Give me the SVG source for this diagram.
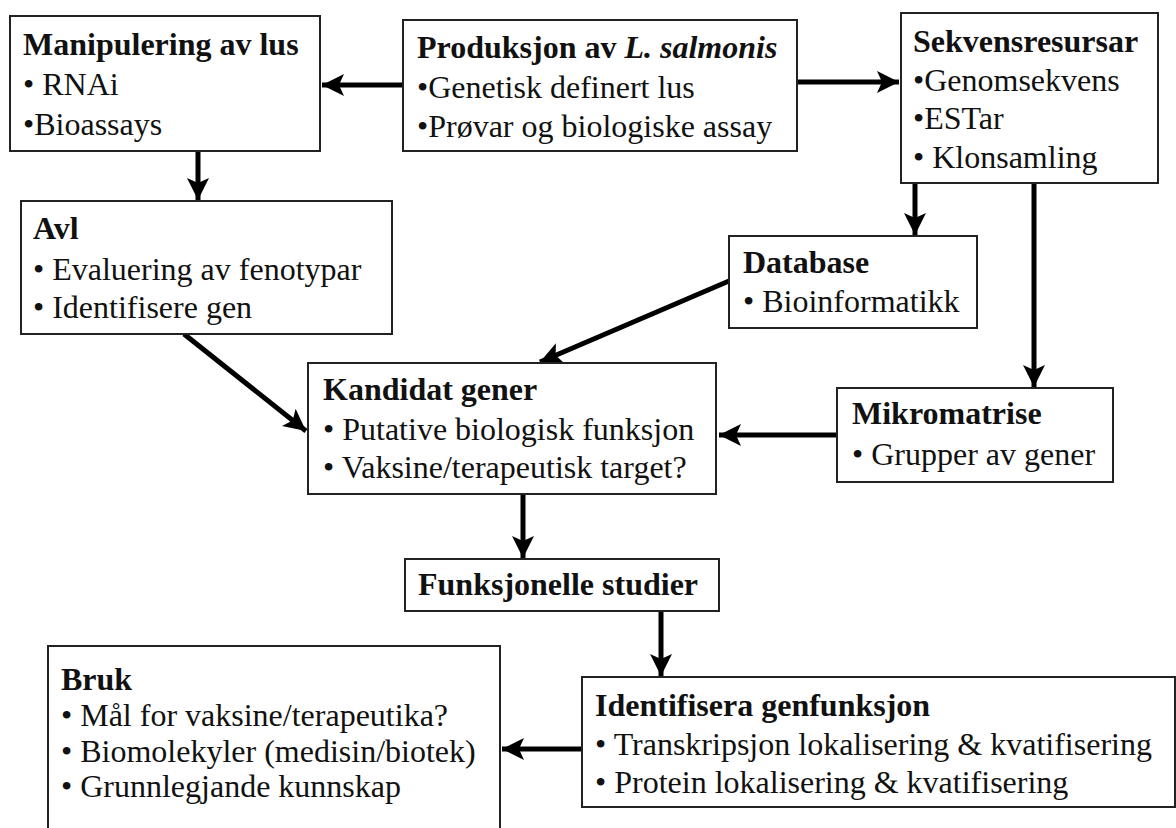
<svg xmlns="http://www.w3.org/2000/svg" width="1176" height="828" viewBox="0 0 1176 828">
<style>
.box{fill:#fff;stroke:#222;stroke-width:2}
text{font-family:"Liberation Serif",serif;font-size:32px;fill:#111}
.t{font-weight:bold}
.c{stroke:#000;stroke-width:5;fill:none}
</style>
<defs>
<marker id="ah" markerUnits="userSpaceOnUse" markerWidth="24" markerHeight="24" viewBox="0 0 24 24" refX="22" refY="12" orient="auto">
<path d="M0,1 L22,12 L0,23 L5,12 Z" fill="#000"/>
</marker>
</defs>
<rect width="1176" height="828" fill="#fff"/>
<g id="connectors">
<line class="c" x1="403" y1="85" x2="322" y2="85" marker-end="url(#ah)"/>
<line class="c" x1="797" y1="82" x2="899" y2="82" marker-end="url(#ah)"/>
<line class="c" x1="198" y1="151" x2="198" y2="200" marker-end="url(#ah)"/>
<line class="c" x1="915" y1="183" x2="915" y2="235" marker-end="url(#ah)"/>
<line class="c" x1="1034" y1="183" x2="1034" y2="387" marker-end="url(#ah)"/>
<line class="c" x1="729" y1="281" x2="540" y2="362" marker-end="url(#ah)"/>
<line class="c" x1="184" y1="334" x2="306" y2="431" marker-end="url(#ah)"/>
<line class="c" x1="837" y1="435" x2="719" y2="435" marker-end="url(#ah)"/>
<line class="c" x1="523" y1="494" x2="523" y2="558" marker-end="url(#ah)"/>
<line class="c" x1="661" y1="611" x2="661" y2="676" marker-end="url(#ah)"/>
<line class="c" x1="582" y1="749" x2="502" y2="749" marker-end="url(#ah)"/>
</g>
<g id="manipulering">
<rect class="box" x="10" y="16" width="310" height="135"/>
<text x="23" y="55" class="t">Manipulering av lus</text>
<text x="23" y="95">• RNAi</text>
<text x="23" y="135">•Bioassays</text>
</g>
<g id="produksjon">
<rect class="box" x="403" y="20" width="394" height="131"/>
<text x="417" y="58" class="t">Produksjon av <tspan font-style="italic">L. salmonis</tspan></text>
<text x="417" y="98">•Genetisk definert lus</text>
<text x="417" y="137">•Prøvar og biologiske assay</text>
</g>
<g id="sekvens">
<rect class="box" x="901" y="13" width="257" height="170"/>
<text x="913" y="52" class="t">Sekvensresursar</text>
<text x="913" y="91">•Genomsekvens</text>
<text x="913" y="129">•ESTar</text>
<text x="913" y="168">• Klonsamling</text>
</g>
<g id="avl">
<rect class="box" x="21" y="201" width="371" height="133"/>
<text x="33" y="239" class="t">Avl</text>
<text x="33" y="280">• Evaluering av fenotypar</text>
<text x="33" y="318">• Identifisere gen</text>
</g>
<g id="database">
<rect class="box" x="729" y="236" width="248" height="92"/>
<text x="743" y="273" class="t">Database</text>
<text x="743" y="312">• Bioinformatikk</text>
</g>
<g id="mikromatrise">
<rect class="box" x="837" y="388" width="276" height="94"/>
<text x="852" y="424" class="t">Mikromatrise</text>
<text x="852" y="465">• Grupper av gener</text>
</g>
<g id="kandidat">
<rect class="box" x="308" y="363" width="408" height="131"/>
<text x="323" y="400" class="t">Kandidat gener</text>
<text x="323" y="440">• Putative biologisk funksjon</text>
<text x="323" y="478">• Vaksine/terapeutisk target?</text>
</g>
<g id="funksjonelle">
<rect class="box" x="405" y="559" width="314" height="52"/>
<text x="418" y="595" class="t">Funksjonelle studier</text>
</g>
<g id="bruk">
<rect class="box" x="48" y="646" width="452" height="200"/>
<text x="61" y="690" class="t">Bruk</text>
<text x="61" y="726">• Mål for vaksine/terapeutika?</text>
<text x="61" y="762">• Biomolekyler (medisin/biotek)</text>
<text x="61" y="797">• Grunnlegjande kunnskap</text>
</g>
<g id="identifisera">
<rect class="box" x="582" y="677" width="593" height="130"/>
<text x="595" y="716" class="t">Identifisera genfunksjon</text>
<text x="595" y="755">• Transkripsjon lokalisering &amp; kvatifisering</text>
<text x="595" y="793">• Protein lokalisering &amp; kvatifisering</text>
</g>
</svg>
